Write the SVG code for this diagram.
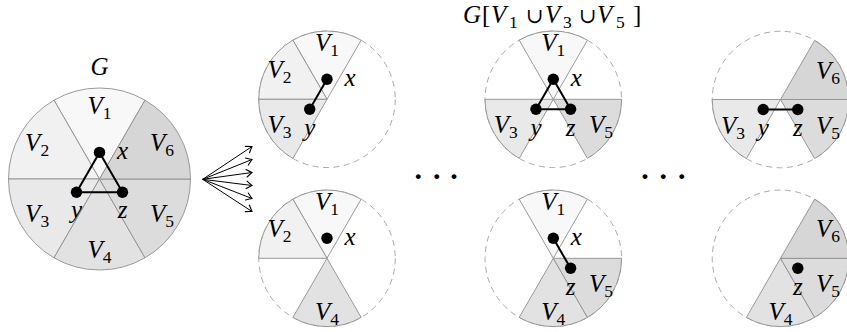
<svg xmlns="http://www.w3.org/2000/svg" width="847" height="332" viewBox="0 0 847 332" font-family="'Liberation Serif','DejaVu Serif',serif" font-size="25">
<style>
text{font-family:'Liberation Serif','DejaVu Serif',serif;font-size:25px;fill:#000}
.i{font-style:italic}
.sub{font-size:17.5px;font-style:normal}
.cup{font-family:'DejaVu Serif',serif;font-size:21px}
.sec{stroke:#8e8e8e;stroke-width:0.9;stroke-linejoin:round}
.f1{fill:#f8f8f8}.f2{fill:#f1f1f1}.f3{fill:#e9e9e9}.f4{fill:#e2e2e2}.f5{fill:#dcdcdc}.f6{fill:#d6d6d6}
.dash{fill:none;stroke:#aaaaaa;stroke-width:1;stroke-dasharray:6 4.5}
.e{stroke:#000;stroke-width:2;fill:none}
.v{fill:#000}
.arr{stroke:#000;stroke-width:1;fill:none;marker-end:url(#ah)}
.dots{font-size:30px;font-weight:bold}
</style>
<defs>
<marker id="ah" viewBox="-7 -5 9 10" refX="0" refY="0" markerWidth="9" markerHeight="10" markerUnits="userSpaceOnUse" orient="auto">
<path d="M-5.5,-3.8 Q-1.6,-1 0,0 Q-1.6,1 -5.5,3.8" fill="none" stroke="#000" stroke-width="1.1" stroke-linecap="round"/>
</marker>
<path id="m6" d="M0,0L91,0A91,91 0 0 0 45.5,-78.808Z"/>
<path id="m1" d="M0,0L45.5,-78.808A91,91 0 0 0 -45.5,-78.808Z"/>
<path id="m2" d="M0,0L-45.5,-78.808A91,91 0 0 0 -91,0Z"/>
<path id="m3" d="M0,0L-91,0A91,91 0 0 0 -45.5,78.808Z"/>
<path id="m4" d="M0,0L-45.5,78.808A91,91 0 0 0 45.5,78.808Z"/>
<path id="m5" d="M0,0L45.5,78.808A91,91 0 0 0 91,0Z"/>
<path id="s6" d="M0,0L68.25,0A68.25,68.25 0 0 0 34.125,-59.106Z"/>
<path id="s1" d="M0,0L34.125,-59.106A68.25,68.25 0 0 0 -34.125,-59.106Z"/>
<path id="s2" d="M0,0L-34.125,-59.106A68.25,68.25 0 0 0 -68.25,0Z"/>
<path id="s3" d="M0,0L-68.25,0A68.25,68.25 0 0 0 -34.125,59.106Z"/>
<path id="s4" d="M0,0L-34.125,59.106A68.25,68.25 0 0 0 34.125,59.106Z"/>
<path id="s5" d="M0,0L34.125,59.106A68.25,68.25 0 0 0 68.25,0Z"/>
</defs>

<g id="G" transform="translate(99.5,179)">
<use href="#m1" class="sec f1"/><use href="#m2" class="sec f2"/><use href="#m3" class="sec f3"/>
<use href="#m4" class="sec f4"/><use href="#m5" class="sec f5"/><use href="#m6" class="sec f6"/>
<text class="i" x="0" y="-104" text-anchor="middle">G</text>
<text x="0" y="-65.5" text-anchor="middle"><tspan class="i">V</tspan><tspan class="sub" dy="5">1</tspan></text>
<text x="-62.4" y="-28" text-anchor="middle"><tspan class="i">V</tspan><tspan class="sub" dy="5">2</tspan></text>
<text x="-62.4" y="43" text-anchor="middle"><tspan class="i">V</tspan><tspan class="sub" dy="5">3</tspan></text>
<text x="0" y="79" text-anchor="middle"><tspan class="i">V</tspan><tspan class="sub" dy="5">4</tspan></text>
<text x="62.4" y="43" text-anchor="middle"><tspan class="i">V</tspan><tspan class="sub" dy="5">5</tspan></text>
<text x="62.4" y="-28" text-anchor="middle"><tspan class="i">V</tspan><tspan class="sub" dy="5">6</tspan></text>
<path class="e" d="M0,-26.6L-23,13.3L23,13.3Z"/>
<circle class="v" cx="0" cy="-26.6" r="5.7"/><circle class="v" cx="-23" cy="13.3" r="5.7"/><circle class="v" cx="23" cy="13.3" r="5.7"/>
<text class="i" x="23" y="-20.3" text-anchor="middle">x</text>
<text class="i" x="-23" y="39" text-anchor="middle">y</text>
<text class="i" x="23" y="39" text-anchor="middle">z</text>
</g>

<g id="connectors">
<line class="arr" x1="202.7" y1="179.3" x2="252" y2="146.5"/>
<line class="arr" x1="202.7" y1="179.3" x2="252" y2="159.5"/>
<line class="arr" x1="202.7" y1="179.3" x2="252" y2="172.5"/>
<line class="arr" x1="202.7" y1="179.3" x2="252" y2="185.5"/>
<line class="arr" x1="202.7" y1="179.3" x2="252" y2="198.5"/>
<line class="arr" x1="202.7" y1="179.3" x2="252" y2="211.5"/>
</g>

<g id="t1" transform="translate(327,99.3)">
<circle class="dash" r="68.25"/>
<use href="#s1" class="sec f1"/><use href="#s2" class="sec f2"/><use href="#s3" class="sec f3"/>
<text x="0" y="-48.5" text-anchor="middle"><tspan class="i">V</tspan><tspan class="sub" dy="5">1</tspan></text>
<text x="-47.6" y="-21" text-anchor="middle"><tspan class="i">V</tspan><tspan class="sub" dy="5">2</tspan></text>
<text x="-47.6" y="34" text-anchor="middle"><tspan class="i">V</tspan><tspan class="sub" dy="5">3</tspan></text>
<path class="e" d="M0,-20L-17.3,10"/>
<circle class="v" cx="0" cy="-20" r="5.7"/><circle class="v" cx="-17.3" cy="10" r="5.7"/>
<text class="i" x="23" y="-13.7" text-anchor="middle">x</text>
<text class="i" x="-17.3" y="36.5" text-anchor="middle">y</text>
</g>

<g id="t2" transform="translate(553.3,99.3)">
<circle class="dash" r="68.25"/>
<use href="#s1" class="sec f1"/><use href="#s3" class="sec f3"/><use href="#s5" class="sec f5"/>
<text y="-76.3"><tspan class="i" x="-90.3">G</tspan><tspan x="-71.3">[</tspan><tspan class="i" x="-62.3">V</tspan><tspan class="sub" x="-44.3" dy="5">1</tspan><tspan class="i" x="-8.3" dy="-5">V</tspan><tspan class="sub" x="9.7" dy="5">3</tspan><tspan class="i" x="43.7" dy="-5">V</tspan><tspan class="sub" x="62.7" dy="5">5</tspan><tspan x="79.7" dy="-5">]</tspan></text>
<text class="cup" x="-18.8" y="-76.3" text-anchor="middle">∪</text>
<text class="cup" x="34.2" y="-76.3" text-anchor="middle">∪</text>
<text x="0" y="-48.5" text-anchor="middle"><tspan class="i">V</tspan><tspan class="sub" dy="5">1</tspan></text>
<text x="-47.6" y="34" text-anchor="middle"><tspan class="i">V</tspan><tspan class="sub" dy="5">3</tspan></text>
<text x="47.6" y="34" text-anchor="middle"><tspan class="i">V</tspan><tspan class="sub" dy="5">5</tspan></text>
<path class="e" d="M0,-20L-17.3,10L17.3,10Z"/>
<circle class="v" cx="0" cy="-20" r="5.7"/><circle class="v" cx="-17.3" cy="10" r="5.7"/><circle class="v" cx="17.3" cy="10" r="5.7"/>
<text class="i" x="23" y="-13.7" text-anchor="middle">x</text>
<text class="i" x="-17.3" y="36.5" text-anchor="middle">y</text>
<text class="i" x="17.3" y="36.5" text-anchor="middle">z</text>
</g>

<g id="t3" transform="translate(780.5,99.5)">
<circle class="dash" r="68.25"/>
<use href="#s3" class="sec f3"/><use href="#s5" class="sec f5"/><use href="#s6" class="sec f6"/>
<text x="-47.6" y="34" text-anchor="middle"><tspan class="i">V</tspan><tspan class="sub" dy="5">3</tspan></text>
<text x="47.6" y="34" text-anchor="middle"><tspan class="i">V</tspan><tspan class="sub" dy="5">5</tspan></text>
<text x="47.6" y="-21" text-anchor="middle"><tspan class="i">V</tspan><tspan class="sub" dy="5">6</tspan></text>
<path class="e" d="M-17.3,10L17.3,10"/>
<circle class="v" cx="-17.3" cy="10" r="5.7"/><circle class="v" cx="17.3" cy="10" r="5.7"/>
<text class="i" x="-17.3" y="36.5" text-anchor="middle">y</text>
<text class="i" x="17.3" y="36.5" text-anchor="middle">z</text>
</g>

<g id="b1" transform="translate(327,258.3)">
<circle class="dash" r="68.25"/>
<use href="#s1" class="sec f1"/><use href="#s2" class="sec f2"/><use href="#s4" class="sec f4"/>
<text x="0" y="-48.5" text-anchor="middle"><tspan class="i">V</tspan><tspan class="sub" dy="5">1</tspan></text>
<text x="-47.6" y="-21" text-anchor="middle"><tspan class="i">V</tspan><tspan class="sub" dy="5">2</tspan></text>
<text x="0" y="61.5" text-anchor="middle"><tspan class="i">V</tspan><tspan class="sub" dy="5">4</tspan></text>
<circle class="v" cx="0" cy="-20" r="5.7"/>
<text class="i" x="23" y="-13.7" text-anchor="middle">x</text>
</g>

<g id="b2" transform="translate(553.3,258.3)">
<circle class="dash" r="68.25"/>
<use href="#s1" class="sec f1"/><use href="#s4" class="sec f4"/><use href="#s5" class="sec f5"/>
<text x="0" y="-48.5" text-anchor="middle"><tspan class="i">V</tspan><tspan class="sub" dy="5">1</tspan></text>
<text x="0" y="61.5" text-anchor="middle"><tspan class="i">V</tspan><tspan class="sub" dy="5">4</tspan></text>
<text x="47.6" y="34" text-anchor="middle"><tspan class="i">V</tspan><tspan class="sub" dy="5">5</tspan></text>
<path class="e" d="M0,-20L17.3,10"/>
<circle class="v" cx="0" cy="-20" r="5.7"/><circle class="v" cx="17.3" cy="10" r="5.7"/>
<text class="i" x="23" y="-13.7" text-anchor="middle">x</text>
<text class="i" x="17.3" y="36.5" text-anchor="middle">z</text>
</g>

<g id="b3" transform="translate(780.5,258.3)">
<circle class="dash" r="68.25"/>
<use href="#s4" class="sec f4"/><use href="#s5" class="sec f5"/><use href="#s6" class="sec f6"/>
<text x="0" y="61.5" text-anchor="middle"><tspan class="i">V</tspan><tspan class="sub" dy="5">4</tspan></text>
<text x="47.6" y="34" text-anchor="middle"><tspan class="i">V</tspan><tspan class="sub" dy="5">5</tspan></text>
<text x="47.6" y="-21" text-anchor="middle"><tspan class="i">V</tspan><tspan class="sub" dy="5">6</tspan></text>
<circle class="v" cx="17.3" cy="10" r="5.7"/>
<text class="i" x="17.3" y="36.5" text-anchor="middle">z</text>
</g>

<g id="dots-left"><text class="dots" x="418.3 436.7 454" y="186" text-anchor="middle">···</text></g>
<g id="dots-right"><text class="dots" x="645 663.3 681.7" y="186" text-anchor="middle">···</text></g>
</svg>
